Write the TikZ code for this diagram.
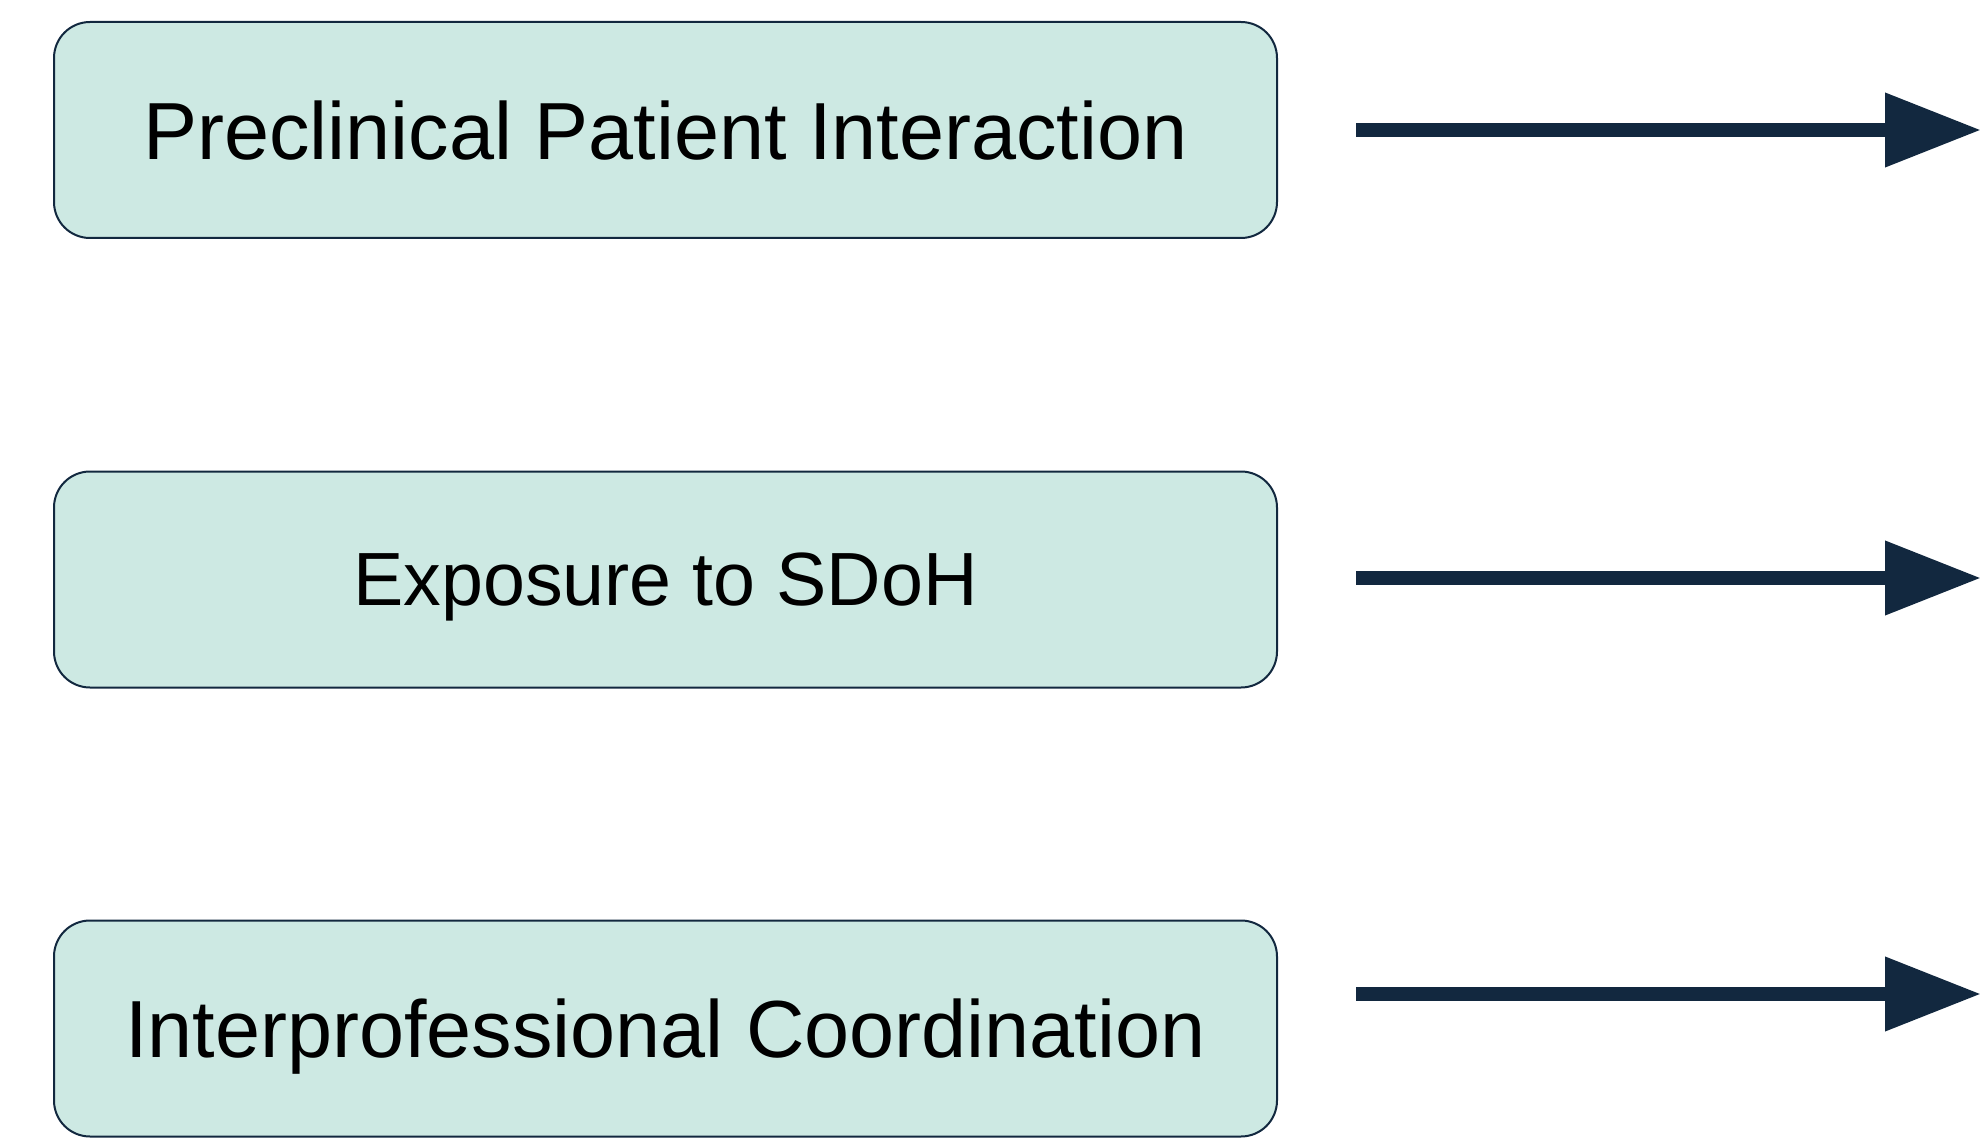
\documentclass[tikz,border=0pt]{standalone}
\usepackage{fontspec}
\setmainfont{Liberation Sans}
\usetikzlibrary{arrows.meta,positioning}
\definecolor{boxfill}{RGB}{205,233,227}
\definecolor{navy}{RGB}{18,40,63}

\begin{document}
\begin{tikzpicture}[x=0.5pt,y=-0.5pt,
    factor/.style={draw=navy, line width=1pt, fill=boxfill, rounded corners=18pt,
      minimum width=611.5pt, minimum height=108pt, inner sep=0pt, text depth=0pt},
    effect/.style={draw=navy, line width=7pt, -{Triangle[length=48pt,width=35.5pt]}}]
  \useasboundingbox (0,0) rectangle (1983,1139);

  % the three factors
  \foreach \n/\y/\s/\t in {1/130/40.5/Preclinical Patient Interaction,
                           2/579.5/37.7/Exposure to SDoH,
                           3/1028.5/40.5/Interprofessional Coordination}
    {
      \node[factor, font=\fontsize{\s}{48}\selectfont] (box\n) at (665.5,\y) {\t};
    }

  % arrows pointing out of the picture
  \foreach \n/\y in {1/130,2/578,3/994}
    {
      \coordinate (from\n) at (1356,\y);
      \coordinate (to\n) at (1981,\y);
      \draw[effect] (from\n) -- (to\n);
    }
\end{tikzpicture}
\end{document}
